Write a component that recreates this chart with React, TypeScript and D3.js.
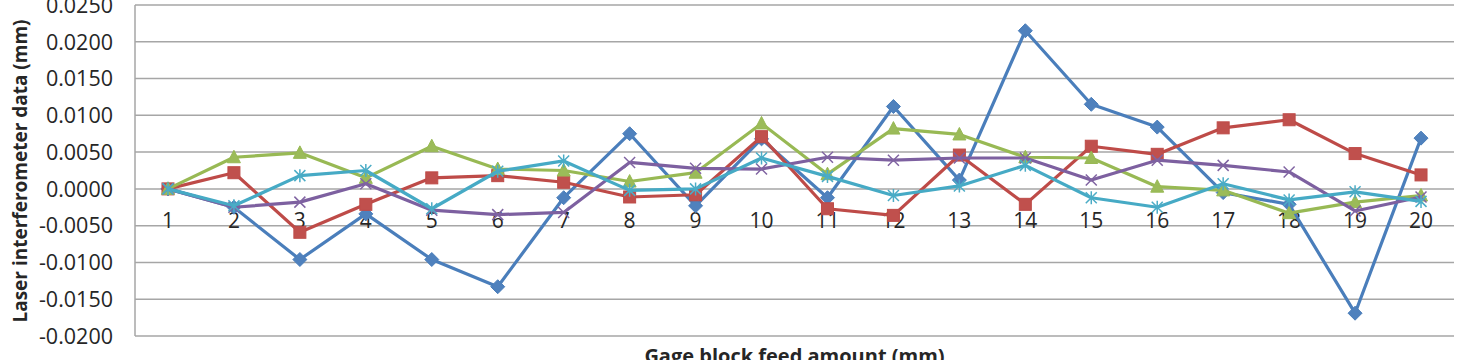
import React, { useEffect, useRef } from "react";
import * as d3 from "d3";

const categories = ["1","2","3","4","5","6","7","8","9","10","11","12","13","14","15","16","17","18","19","20"];

const seriesBlue = [0, -0.0025, -0.0096, -0.0034, -0.0096, -0.0133, -0.0012, 0.0075, -0.0023, 0.0068, -0.0012, 0.0112, 0.0012, 0.0215, 0.0115, 0.0084, -0.0005, -0.0021, -0.0169, 0.0069];
const seriesRed = [0, 0.0022, -0.0059, -0.0021, 0.0015, 0.0018, 0.0009, -0.0011, -0.0008, 0.0071, -0.0027, -0.0036, 0.0046, -0.0021, 0.0058, 0.0047, 0.0083, 0.0094, 0.0048, 0.0019];
const seriesGreen = [0, 0.0043, 0.0049, 0.0015, 0.0058, 0.0027, 0.0025, 0.0010, 0.0022, 0.0089, 0.0020, 0.0082, 0.0074, 0.0043, 0.0042, 0.0003, -0.0002, -0.0033, -0.0018, -0.0009];
const seriesPurple = [0, -0.0025, -0.0018, 0.0007, -0.0029, -0.0035, -0.0032, 0.0036, 0.0028, 0.0027, 0.0043, 0.0039, 0.0042, 0.0042, 0.0012, 0.0039, 0.0032, 0.0023, -0.0030, -0.0011];
const seriesCyan = [0, -0.0023, 0.0018, 0.0025, -0.0027, 0.0024, 0.0038, -0.0002, 0.0000, 0.0042, 0.0017, -0.0009, 0.0004, 0.0032, -0.0012, -0.0025, 0.0007, -0.0015, -0.0004, -0.0017];

const yTicks = [-0.02, -0.015, -0.01, -0.005, 0, 0.005, 0.01, 0.015, 0.02, 0.025];

const yTitle = "Laser interferometer data (mm)";
const xTitle = "Gage block feed amount (mm)";

type Series = { values: number[]; line: string; fill: string; marker: string };

const series: Series[] = [
  { values: seriesBlue, line: "#4A7EBB", fill: "#4F81BD", marker: "diamond" },
  { values: seriesRed, line: "#BE4B48", fill: "#C0504D", marker: "square" },
  { values: seriesGreen, line: "#98B954", fill: "#9BBB59", marker: "triangle" },
  { values: seriesPurple, line: "#7D60A0", fill: "#8064A2", marker: "x" },
  { values: seriesCyan, line: "#46AAC5", fill: "#4BACC6", marker: "star" },
];

const App: React.FC = () => {
  const svgRef = useRef<SVGSVGElement | null>(null);

  useEffect(() => {
    if (!svgRef.current) return;
    const width = 1459;
    const height = 360;
    const svg = d3.select(svgRef.current);
    svg.selectAll("*").remove();
    svg.attr("width", width).attr("height", height);

    const left = 135, right = 1454, top = 5, bottom = 336;
    const font = "'Open Sans', 'Liberation Sans', sans-serif";

    const x = d3.scaleBand().domain(categories).range([left, right]);
    const y = d3.scaleLinear().domain([-0.02, 0.025]).range([bottom, top]);
    const cx = (c: string) => x(c)! + x.bandwidth() / 2;

    // gridlines
    svg.append("g")
      .selectAll("line")
      .data(yTicks)
      .enter()
      .append("line")
      .attr("x1", left)
      .attr("x2", right)
      .attr("y1", d => y(d))
      .attr("y2", d => y(d))
      .attr("stroke", "#a6a6a6")
      .attr("stroke-width", 1.5);

    svg.append("line")
      .attr("x1", left).attr("x2", left)
      .attr("y1", top).attr("y2", bottom)
      .attr("stroke", "#a6a6a6")
      .attr("stroke-width", 1.5);

    // y tick labels
    svg.append("g")
      .selectAll("text")
      .data(yTicks)
      .enter()
      .append("text")
      .attr("x", 113)
      .attr("y", d => y(d))
      .attr("dy", "0.36em")
      .attr("text-anchor", "end")
      .attr("font-family", font)
      .attr("font-size", 21.5)
      .attr("fill", "#262626")
      .text(d => d.toFixed(4));

    // category labels sit under the zero line
    svg.append("g")
      .selectAll("text")
      .data(categories)
      .enter()
      .append("text")
      .attr("x", d => cx(d))
      .attr("y", 228)
      .attr("text-anchor", "middle")
      .attr("font-family", font)
      .attr("font-size", 21)
      .attr("fill", "#262626")
      .text(d => d);

    const line = d3.line<number>()
      .x((_, i) => cx(categories[i]))
      .y(d => y(d));

    series.forEach(s => {
      const g = svg.append("g");
      g.append("path")
        .attr("d", line(s.values)!)
        .attr("fill", "none")
        .attr("stroke", s.line)
        .attr("stroke-width", 3.2)
        .attr("stroke-linejoin", "round");

      const pts = g.selectAll("g.m")
        .data(s.values)
        .enter()
        .append("g")
        .attr("transform", (d, i) => `translate(${cx(categories[i])},${y(d)})`);

      if (s.marker === "diamond") {
        pts.append("path").attr("d", "M0,-7L7,0L0,7L-7,0Z").attr("fill", s.fill).attr("stroke", s.line);
      } else if (s.marker === "square") {
        pts.append("rect").attr("x", -6).attr("y", -6).attr("width", 12).attr("height", 12).attr("fill", s.fill).attr("stroke", s.line);
      } else if (s.marker === "triangle") {
        pts.append("path").attr("d", "M0,-7L6.5,5.5L-6.5,5.5Z").attr("fill", s.fill).attr("stroke", s.line);
      } else if (s.marker === "x") {
        pts.append("path").attr("d", "M-5.5,-5.5L5.5,5.5M-5.5,5.5L5.5,-5.5").attr("stroke", s.fill).attr("stroke-width", 1.5);
      } else {
        pts.append("path").attr("d", "M-5.5,-5.5L5.5,5.5M-5.5,5.5L5.5,-5.5M0,-6.5L0,6.5").attr("stroke", s.fill).attr("stroke-width", 1.5);
      }
    });

    // axis titles
    svg.append("text")
      .attr("transform", "translate(27,171) rotate(-90)")
      .attr("text-anchor", "middle")
      .attr("font-family", font)
      .attr("font-weight", "bold")
      .attr("font-size", 19)
      .attr("fill", "#262626")
      .text(yTitle);

    svg.append("text")
      .attr("x", (left + right) / 2)
      .attr("y", 363)
      .attr("text-anchor", "middle")
      .attr("font-family", font)
      .attr("font-weight", "bold")
      .attr("font-size", 20)
      .attr("fill", "#262626")
      .text(xTitle);
  }, []);

  return <svg ref={svgRef} style={{ position: "absolute", left: 0, top: 0 }}></svg>;
};

export default App;
